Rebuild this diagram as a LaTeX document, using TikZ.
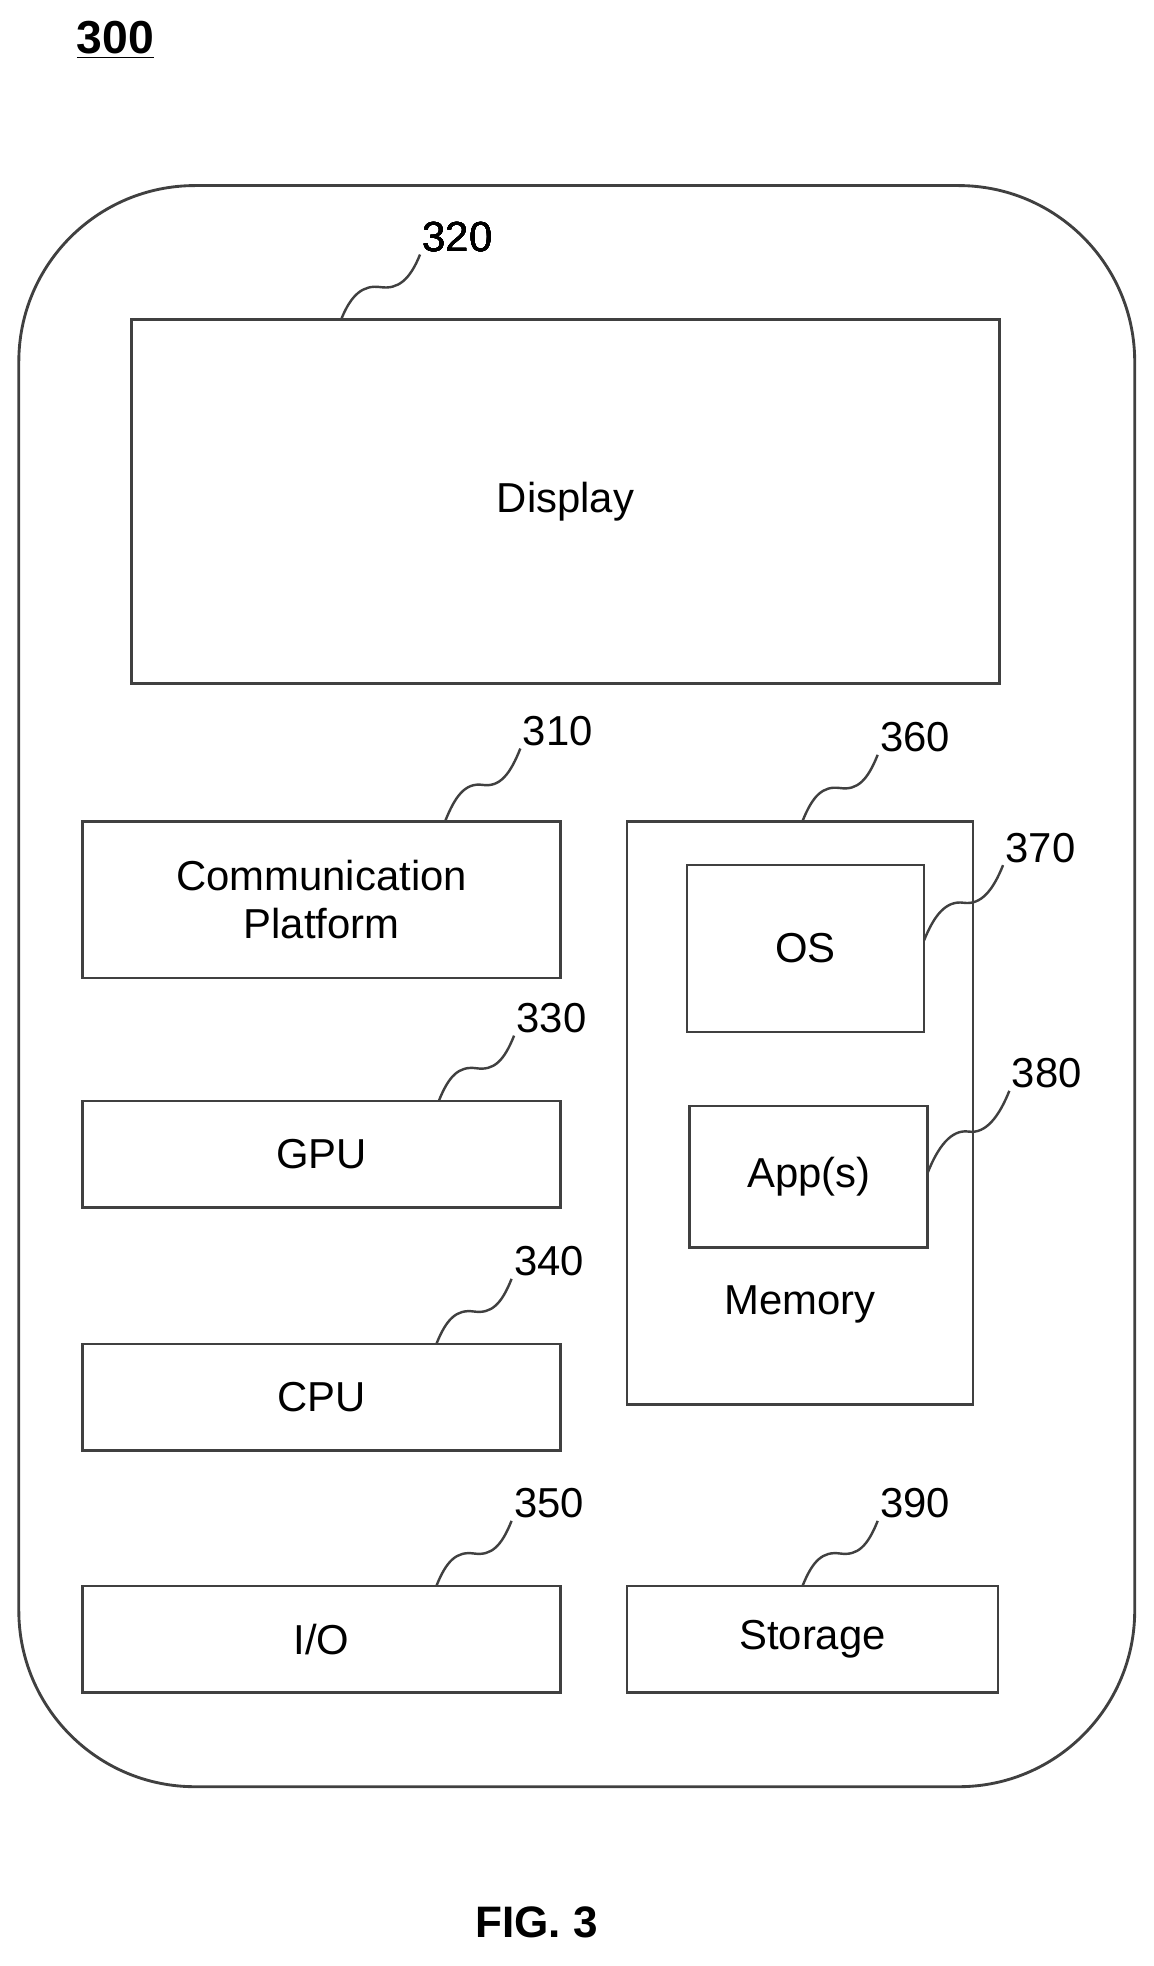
\documentclass[tikz,border=0pt]{standalone}
\usepackage{fontspec}
\setmainfont{Liberation Sans}
\usetikzlibrary{positioning,calc}
\tikzset{
  blk/.style={draw=black!75,line width=1.2pt,inner sep=0pt,align=center,
    font=\fontsize{19}{24}\selectfont},
  refnum/.style={font=\fontsize{19}{22}\selectfont,anchor=south west,inner sep=1pt},
  squig/.style={draw=black!75,line width=1.1pt}
}
\newcommand{\wavy}[2]{%
  \draw[squig] (#1) .. controls +(8,-20) and +(-14,-2) .. ($(#1)!.5!(#2)$)
    .. controls +(14,2) and +(-8,20) .. (#2);}
\begin{document}
\begin{tikzpicture}[x=0.02cm,y=-0.02cm]
  \useasboundingbox (0,0) rectangle (920,1568);
  % ueberschrift
  \node[font=\fontsize{21}{24}\selectfont\bfseries] (fignum) at (92,32) {\underline{300}};
  % gehaeuse
  \draw[draw=black!75,line width=1.3pt,rounded corners=80] (15,148) rectangle (905,1425);
  % bausteine
  \node[blk,minimum width=13.84cm,minimum height=5.8cm] (display) at (451,400) {Display};
  \node[blk,minimum width=7.62cm,minimum height=2.5cm] (comm) at (256.5,717.5) {Communication\\[-2pt]Platform};
  \node[blk,minimum width=7.62cm,minimum height=1.7cm] (gpu) at (256.5,920.5) {GPU};
  \node[blk,minimum width=7.62cm,minimum height=1.7cm] (cpu) at (256.5,1114.5) {CPU};
  \node[blk,minimum width=7.62cm,minimum height=1.7cm] (io) at (256.5,1307.5) {I/O};
  \node[blk,minimum width=5.52cm,minimum height=9.3cm] (memory) at (638,887.5) {};
  \node[blk,draw=none] (memlabel) at (638,1040) {Memory};
  \node[blk,minimum width=3.78cm,minimum height=2.66cm] (os) at (642.5,756.5) {OS};
  \node[blk,minimum width=3.8cm,minimum height=2.26cm] (apps) at (645,938.5) {App(s)};
  \node[blk,minimum width=5.92cm,minimum height=1.7cm] (storage) at (648,1307.5) {Storage};
  % bezugszeichen
  \coordinate (d0) at (272,255); \coordinate (d1) at (335,203);
  \coordinate (c0) at (355,655); \coordinate (c1) at (415,597);
  \coordinate (g0) at (350,878); \coordinate (g1) at (410,826);
  \coordinate (p0) at (348,1072); \coordinate (p1) at (408,1020);
  \coordinate (i0) at (348,1265); \coordinate (i1) at (408,1213);
  \coordinate (m0) at (640,655); \coordinate (m1) at (700,602);
  \coordinate (o0) at (737,750); \coordinate (o1) at (800,690);
  \coordinate (a0) at (740,935); \coordinate (a1) at (805,870);
  \coordinate (s0) at (640,1265); \coordinate (s1) at (700,1213);
  \foreach \p in {d,c,g,p,i,m,o,a,s}
    \wavy{\p0}{\p1}
  \node[refnum] (n320) at (d1) {320};
  \node[refnum] (n310) at (c1) {310};
  \node[refnum] (n330) at (g1) {330};
  \node[refnum] (n340) at (p1) {340};
  \node[refnum] (n350) at (i1) {350};
  \node[refnum] (n360) at (m1) {360};
  \node[refnum] (n370) at (o1) {370};
  \node[refnum] (n380) at (a1) {380};
  \node[refnum] (n390) at (s1) {390};
  % unterschrift
  \node[font=\fontsize{20}{24}\selectfont\bfseries] (caption) at (428,1533) {FIG. 3};
\end{tikzpicture}
\end{document}
